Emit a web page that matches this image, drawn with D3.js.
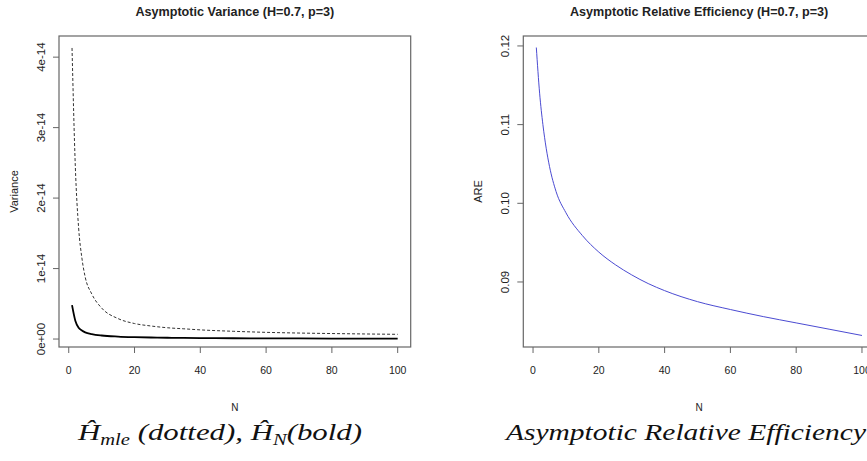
<!DOCTYPE html>
<html>
<head>
<meta charset="utf-8">
<script src="https://cdn.jsdelivr.net/npm/d3@7"></script>
<style>
  body { margin: 0; background: #fff; }
  svg { display: block; }
  text { font-family: "Liberation Sans", Arial, sans-serif; fill: #222; }
  text.formula { font-family: "Liberation Serif", "DejaVu Serif", serif; font-style: italic; fill: #111; }
</style>
</head>
<body>
<div id="wrapper"></div>
<script>
// sample sizes N
const N = [1, 2, 3, 4, 5, 7, 10, 15, 20, 25, 30, 35, 40, 50, 60, 70, 80, 90, 100];
// asymptotic variance of H_mle (dotted), in units of 1e-14
const varMle = [4.13, 2.45, 1.58, 1.15, 0.88, 0.64, 0.44, 0.29, 0.22, 0.185, 0.16, 0.145, 0.13, 0.11, 0.095, 0.085, 0.078, 0.072, 0.067];
// asymptotic variance of H_N (bold), in units of 1e-14
const varHN = [0.48, 0.26, 0.16, 0.12, 0.095, 0.07, 0.05, 0.035, 0.027, 0.022, 0.018, 0.016, 0.014, 0.011, 0.009, 0.008, 0.007, 0.006, 0.005];
// asymptotic relative efficiency
const are = [0.1198, 0.1140, 0.1100, 0.1070, 0.1047, 0.1015, 0.0988, 0.0959, 0.0938, 0.0922, 0.0909, 0.0898, 0.0889, 0.0875, 0.0865, 0.0856, 0.0848, 0.0840, 0.0832];

const xTicks = [0, 20, 40, 60, 80, 100];
const varTicks = [0, 1e-14, 2e-14, 3e-14, 4e-14];
const varTickLabels = ["0e+00", "1e-14", "2e-14", "3e-14", "4e-14"];
const areTicks = [0.09, 0.10, 0.11, 0.12];
const areTickLabels = ["0.09", "0.10", "0.11", "0.12"];

const width = 867, height = 461;

const svg = d3.select("#wrapper")
    .append("svg")
    .attr("width", width)
    .attr("height", height);

// R style axis range: data extent padded by 4%
function rPad(ext) {
    const d = (ext[1] - ext[0]) * 0.04;
    return [ext[0] - d, ext[1] + d];
}

function panel(opt) {
    const g = svg.append("g");
    const x = d3.scaleLinear()
        .domain(rPad(d3.extent(N)))
        .range([opt.left, opt.right]);
    const y = d3.scaleLinear()
        .domain(opt.yDomain)
        .range([opt.bottom, opt.top]);

    // series
    opt.series.forEach(s => {
        const line = d3.line()
            .x((d, i) => x(N[i]))
            .y(d => y(d))
            .curve(d3.curveMonotoneX);
        g.append("path")
            .attr("d", line(s.values))
            .attr("fill", "none")
            .attr("stroke", s.color)
            .attr("stroke-width", s.width)
            .attr("stroke-dasharray", s.dash || null);
    });

    // box
    g.append("rect")
        .attr("x", opt.left)
        .attr("y", opt.top)
        .attr("width", opt.right - opt.left)
        .attr("height", opt.bottom - opt.top)
        .attr("fill", "none")
        .attr("stroke", "#666")
        .attr("stroke-width", 1.2);

    // x ticks
    g.selectAll(".xt")
        .data(xTicks)
        .enter()
        .append("line")
        .attr("x1", d => x(d)).attr("x2", d => x(d))
        .attr("y1", opt.bottom).attr("y2", opt.bottom + 6)
        .attr("stroke", "#666");
    g.selectAll(".xl")
        .data(xTicks)
        .enter()
        .append("text")
        .attr("x", d => x(d))
        .attr("y", opt.bottom + 27)
        .attr("text-anchor", "middle")
        .style("font-size", "10.5px")
        .text(d => d);

    // y ticks
    g.selectAll(".yt")
        .data(opt.yTicks)
        .enter()
        .append("line")
        .attr("x1", opt.left - 6).attr("x2", opt.left)
        .attr("y1", d => y(d)).attr("y2", d => y(d))
        .attr("stroke", "#666");
    g.selectAll(".yl")
        .data(opt.yTicks)
        .enter()
        .append("text")
        .attr("transform", d => `translate(${opt.left - 14},${y(d)}) rotate(-90)`)
        .attr("text-anchor", "middle")
        .style("font-size", "11.5px")
        .text((d, i) => opt.yTickLabels[i]);

    // titles
    const cx = (opt.left + opt.right) / 2;
    const cy = (opt.top + opt.bottom) / 2;
    g.append("text")
        .attr("x", cx)
        .attr("y", 16)
        .attr("text-anchor", "middle")
        .style("font-size", "12.6px")
        .style("font-weight", "bold")
        .text(opt.title);
    g.append("text")
        .attr("x", cx)
        .attr("y", opt.bottom + 64)
        .attr("text-anchor", "middle")
        .style("font-size", "10px")
        .text("N");
    g.append("text")
        .attr("transform", `translate(${opt.left - 41},${cy}) rotate(-90)`)
        .attr("text-anchor", "middle")
        .style("font-size", "11px")
        .text(opt.yLabel);
    return g;
}

panel({
    left: 59, right: 410.7, top: 36, bottom: 347,
    yDomain: [-0.113e-14, 4.30e-14],
    yTicks: varTicks, yTickLabels: varTickLabels,
    title: "Asymptotic Variance (H=0.7, p=3)",
    yLabel: "Variance",
    series: [
        { values: varMle.map(v => v * 1e-14), color: "#333", width: 1, dash: "3,2" },
        { values: varHN.map(v => v * 1e-14), color: "#000", width: 1.8 }
    ]
});

panel({
    left: 523.3, right: 875, top: 36, bottom: 347,
    yDomain: rPad(d3.extent(are)),
    yTicks: areTicks, yTickLabels: areTickLabels,
    title: "Asymptotic Relative Efficiency (H=0.7, p=3)",
    yLabel: "ARE",
    series: [
        { values: are, color: "#4b4bd2", width: 1 }
    ]
});

// captions under the panels
const capL = svg.append("text")
    .attr("class", "formula")
    .attr("x", 78)
    .attr("y", 440)
    .attr("textLength", 284)
    .attr("lengthAdjust", "spacingAndGlyphs")
    .style("font-size", "24px");
capL.append("tspan").text("\u0124");
capL.append("tspan").attr("dy", 5).style("font-size", "16px").text("mle");
capL.append("tspan").attr("dy", -5).text(" (dotted), \u0124");
capL.append("tspan").attr("dy", 5).style("font-size", "16px").text("N");
capL.append("tspan").attr("dy", -5).text("(bold)");

svg.append("text")
    .attr("class", "formula")
    .attr("x", 506)
    .attr("y", 440)
    .attr("textLength", 360)
    .attr("lengthAdjust", "spacingAndGlyphs")
    .style("font-size", "24px")
    .text("Asymptotic Relative Efficiency");
</script>
</body>
</html>
